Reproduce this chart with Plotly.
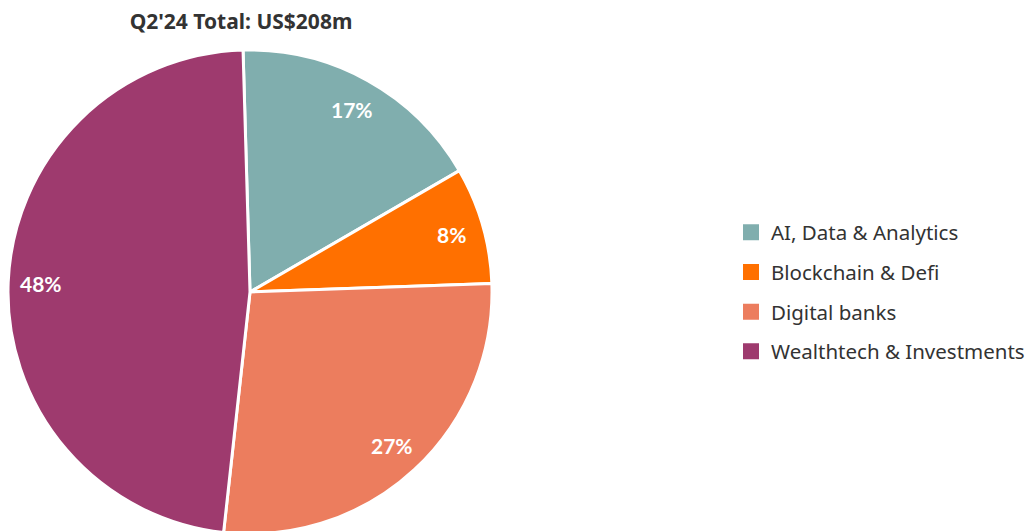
import math
import plotly.graph_objects as go

labels = ["AI, Data & Analytics", "Blockchain & Defi", "Digital banks", "Wealthtech & Investments"]
values = [17.1, 7.8, 27.3, 47.8]
colors = ["#80AEAE", "#FF7000", "#EC7D5E", "#9E3A6E"]
title_text = "Q2'24 Total: US$208m"

W, H = 1033, 531
cx, cy, r = 242, 284, 242
rotation = -1.65
label_r = 0.865

fig = go.Figure(go.Pie(
    labels=labels,
    values=values,
    sort=False,
    direction="clockwise",
    rotation=rotation,
    marker=dict(colors=colors, line=dict(color="white", width=3)),
    textinfo="none",
    domain=dict(x=[(cx - r) / W, (cx + r) / W], y=[(H - cy - r) / H, (H - cy + r) / H]),
    hoverinfo="label+percent",
    showlegend=False,
))

# percentage labels placed at each slice's mid-angle (derived from values)
total = sum(values)
ang = rotation
for v in values:
    span = v / total * 360
    mid = math.radians(ang + span / 2)
    ang += span
    px = cx + label_r * r * math.sin(mid)
    py = cy - label_r * r * math.cos(mid)
    fig.add_annotation(
        x=px / W, y=1 - py / H, xref="paper", yref="paper",
        text="<b>%d%%</b>" % round(v / total * 100),
        showarrow=False, xanchor="center", yanchor="middle",
        font=dict(family="Lato", size=21, color="white"),
    )

# legend entries
for i, (lab, col) in enumerate(zip(labels, colors)):
    fig.add_trace(go.Scatter(
        x=[None], y=[None], mode="markers", name=lab,
        marker=dict(symbol="square", size=16, color=col),
        legendgroup="g%d" % i, showlegend=True, hoverinfo="skip",
    ))

fig.update_layout(
    width=W, height=H,
    margin=dict(l=0, r=0, t=0, b=0),
    paper_bgcolor="white",
    plot_bgcolor="white",
    xaxis=dict(visible=False),
    yaxis=dict(visible=False),
    title=dict(text="<b>" + title_text + "</b>", x=233 / W, xanchor="center", y=1 - 14 / H, yanchor="middle",
               font=dict(family="Noto Sans", size=21, color="#333333")),
    legend=dict(x=723 / W, xanchor="left", y=(H - 284) / H, yanchor="middle",
                font=dict(family="Noto Sans", size=20.5, color="#333333"),
                itemsizing="trace", traceorder="grouped", tracegroupgap=10,
                bgcolor="rgba(0,0,0,0)"),
)

fig.write_html("out.html")
